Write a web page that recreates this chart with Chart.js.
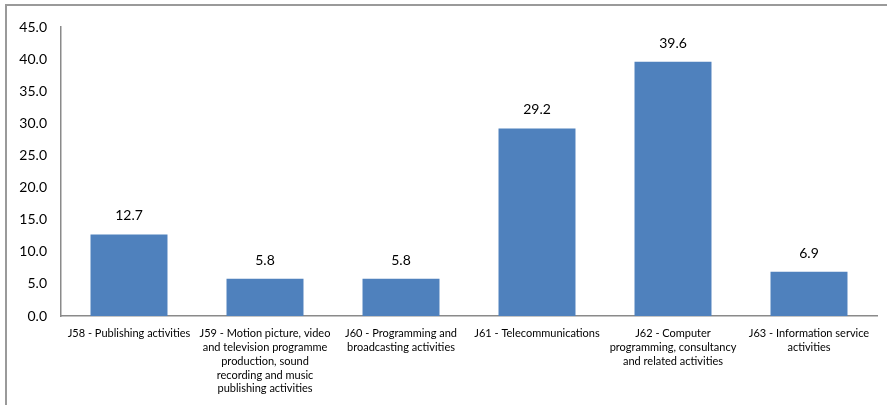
<!DOCTYPE html>
<html>
<head>
<meta charset="utf-8">
<script src="https://cdn.jsdelivr.net/npm/chart.js@4/dist/chart.umd.min.js"></script>
<style>
  html, body { margin: 0; padding: 0; background: #fff; }
  body { width: 887px; height: 405px; overflow: hidden; position: relative; }
  #frame { position: absolute; left: 5px; top: 4px; width: 890px; height: 420px; border: 2px solid #9a9a9a; box-sizing: border-box; }
  #wrap { position: absolute; left: 0; top: 0; width: 887px; height: 405px; }
</style>
</head>
<body>
<div id="frame"></div>
<div id="wrap"><canvas id="c" width="887" height="405"></canvas></div>
<script>
const categories = [
  ["J58 - Publishing activities"],
  ["J59 - Motion picture, video", "and television programme", "production, sound", "recording and music", "publishing activities"],
  ["J60 - Programming and", "broadcasting activities"],
  ["J61 - Telecommunications"],
  ["J62 - Computer", "programming, consultancy", "and related activities"],
  ["J63 - Information service", "activities"]
];
const values = [12.7, 5.8, 5.8, 29.2, 39.6, 6.9];
const yMin = 0, yMax = 45, yStep = 5;

const valueLabels = {
  id: 'valueLabels',
  afterDatasetsDraw(chart) {
    const ctx = chart.ctx;
    const meta = chart.getDatasetMeta(0);
    ctx.save();
    ctx.font = '14px Lato';
    ctx.fillStyle = '#000';
    ctx.textAlign = 'center';
    ctx.textBaseline = 'alphabetic';
    meta.data.forEach((bar, i) => {
      ctx.fillText(values[i].toFixed(1), bar.x, bar.y - 14);
    });
    ctx.restore();
  }
};

new Chart(document.getElementById('c'), {
  type: 'bar',
  data: {
    labels: categories,
    datasets: [{
      data: values,
      backgroundColor: '#4F81BD',
      borderWidth: 0,
      barPercentage: 0.566,
      categoryPercentage: 1.0
    }]
  },
  options: {
    responsive: false,
    animation: false,
    devicePixelRatio: 1,
    layout: { padding: { left: 0, right: 10, top: 27, bottom: 0 } },
    plugins: { legend: { display: false }, tooltip: { enabled: false } },
    scales: {
      x: {
        grid: { display: false, drawTicks: false },
        border: { display: true, color: '#8a8a8a', width: 1.5 },
        ticks: {
          color: '#000',
          font: { family: 'Lato', size: 11, lineHeight: 1.25 },
          maxRotation: 0, minRotation: 0, autoSkip: false,
          padding: 11
        },
        afterFit(scale) { scale.height = 89; }
      },
      y: {
        min: yMin, max: yMax,
        grid: { display: false, drawTicks: false },
        border: { display: true, color: '#8a8a8a', width: 1.5 },
        ticks: {
          stepSize: yStep,
          color: '#000',
          font: { family: 'Lato', size: 14 },
          padding: 14,
          callback: v => Number(v).toFixed(1)
        },
        afterFit(scale) { scale.width = 61; }
      }
    }
  },
  plugins: [valueLabels]
});
</script>
</body>
</html>
